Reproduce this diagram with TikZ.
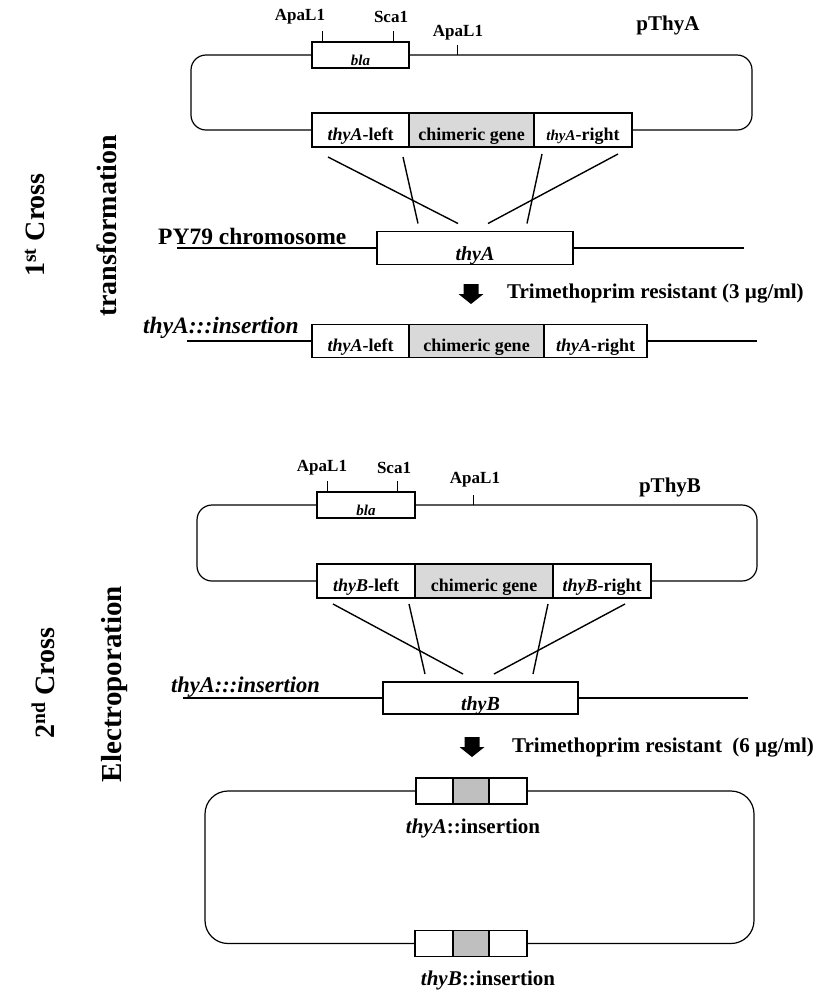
\documentclass[tikz,border=0pt]{standalone}
\usepackage{fontspec}
\setmainfont{Liberation Serif}
\usetikzlibrary{calc}
\usetikzlibrary{positioning}

\newcommand{\dnarrow}[2]{% block arrow, x and top y
  \fill ({#1-7.5},{#2}) -- ({#1+7.5},{#2}) -- ({#1+7.5},{#2+10}) -- ({#1+12.5},{#2+10})
  -- ({#1},{#2+20}) -- ({#1-12.5},{#2+10}) -- ({#1-7.5},{#2+10}) -- cycle;}

\tikzset{
  txt/.style={font=\fontsize{#1}{#1}\selectfont\bfseries, inner sep=0pt},
  txt/.default=18,
  low/.style={text height=#1, text depth=0pt},
  gene/.style={draw, line width=1.8pt, inner sep=0pt, outer sep=0pt, minimum height=34pt, txt=18, low=20pt},
  chim/.style={gene, fill=gray!30},
  small/.style={draw, line width=1.5pt, inner sep=0pt, outer sep=0pt, minimum height=26pt},
  dna/.style={line width=1.6pt},
  ring/.style={line width=1.2pt, rounded corners=15pt},
  tick/.style={line width=1pt},
  xover/.style={line width=1.4pt},
}

\begin{document}
\begin{tikzpicture}[x=1pt,y=-1pt]
  \useasboundingbox (0,0) rectangle (819,994);

  % side labels
  \node[txt=28, rotate=90] (crossA) at (35,225) {1\textsuperscript{st} Cross};
  \node[txt=28, rotate=90] (methA) at (107,226) {transformation};
  \node[txt=28, rotate=90] (crossB) at (43,683) {2\textsuperscript{nd} Cross};
  \node[txt=29, rotate=90] (methB) at (115,684) {Electroporation};

  %%% first cross
  \def \yp {130}
  \node[small, minimum width=97pt, txt=15, low=20pt] (blaA) at (360.5,55) {\textit{bla}};
  \node[gene, minimum width=97pt] (lftA) at (360.5,\yp) {\textit{thyA}-left};
  \node[chim, minimum width=125pt] (chiA) at (471.5,\yp) {chimeric gene};
  \node[gene, minimum width=98pt] (rgtA) at (583,\yp) {{\fontsize{15}{15}\selectfont\textit{thyA}}-right};
  \draw[ring] (blaA.east) -| ($(rgtA.east)+(120,0)$) -- (rgtA.east);
  \draw[ring] (blaA.west) -| ($(lftA.west)+(-121,0)$) -- (lftA.west);

  \node[txt=17] (apaA1) at (300,17) {ApaL1};
  \node[txt=17] (scaA) at (391,17) {Sca1};
  \node[txt=17] (apaA2) at (458,33) {ApaL1};
  \node[txt=21] (plA) at (668,25) {pThyA};
  \draw[tick] (blaA.north west) ++(10,0) -- ++(0,-11);
  \draw[tick] (blaA.north west) ++(81,0) -- ++(0,-11);
  \draw[tick] (457,55) -- ++(0,-10);

  % chromosome
  \def \y {248}
  \node[gene, minimum width=196pt, minimum height=33pt, txt=20, low=24pt] (chrA) at (475,\y) {\textit{thyA}};
  \coordinate (chrAl) at (177,\y);
  \coordinate (chrAr) at (744,\y);
  \draw[dna] (chrAl) -- (chrA.west);
  \draw[dna] (chrA.east) -- (chrAr);
  \node[txt=23.5, anchor=west] (pyA) at (158,236) {PY79 chromosome};

  \draw[xover] ($(lftA.south west)+(16,10)$) -- ($(chrA.north west)+(81,-8)$);
  \draw[xover] ($(lftA.south east)+(-6,10)$) -- ($(chrA.north west)+(41,-8)$);
  \draw[xover] ($(rgtA.south west)+(8,7)$) -- ($(chrA.north east)+(-46,-8)$);
  \draw[xover] ($(rgtA.south east)+(-14,7)$) -- ($(chrA.north west)+(111,-8)$);

  \dnarrow{471}{284}
  \node[txt=21, anchor=west] (trA) at (507,294) {Trimethoprim resistant (3 µg/ml)};

  % insertion
  \def \y {341}
  \node[gene, minimum width=97pt, minimum height=33pt] (insAl) at (360.5,\y) {\textit{thyA}-left};
  \node[chim, minimum width=135pt, minimum height=33pt] (insAc) at (476.5,\y) {chimeric gene};
  \node[gene, minimum width=103pt, minimum height=33pt] (insAr) at (595.5,\y) {\textit{thyA}-right};
  \coordinate (insAa) at (187,\y);
  \coordinate (insAb) at (757,\y);
  \draw[dna] (insAa) -- (insAl.west);
  \draw[dna] (insAr.east) -- (insAb);
  \node[txt=23.5, anchor=west] (insAt) at (143,328) {\textit{thyA:::insertion}};

  %%% second cross
  \def \yp {581}
  \node[small, minimum width=98pt, txt=15, low=20pt] (blaB) at (366,505) {\textit{bla}};
  \node[gene, minimum width=98pt] (lftB) at (366,\yp) {\textit{thyB}-left};
  \node[chim, minimum width=138pt] (chiB) at (484,\yp) {chimeric gene};
  \node[gene, minimum width=98pt] (rgtB) at (602,\yp) {\textit{thyB}-right};
  \draw[ring] (blaB.east) -| ($(rgtB.east)+(106,0)$) -- (rgtB.east);
  \draw[ring] (blaB.west) -| ($(lftB.west)+(-120,0)$) -- (lftB.west);

  \node[txt=17] (apaB1) at (322,468) {ApaL1};
  \node[txt=17] (scaB) at (394,468) {Sca1};
  \node[txt=17] (apaB2) at (475,480) {ApaL1};
  \node[txt=21] (plB) at (670,487) {pThyB};
  \draw[tick] (blaB.north west) ++(10,0) -- ++(0,-11);
  \draw[tick] (blaB.north west) ++(80,0) -- ++(0,-11);
  \draw[tick] (473,505) -- ++(0,-10);

  % chromosome
  \def \y {698}
  \node[gene, minimum width=195pt, minimum height=32pt, txt=20, low=24pt] (chrB) at (480.5,\y) {\textit{thyB}};
  \coordinate (chrBl) at (183,\y);
  \coordinate (chrBr) at (748,\y);
  \draw[dna] (chrBl) -- (chrB.west);
  \draw[dna] (chrB.east) -- (chrBr);
  \node[txt=22.5, anchor=west] (insBt) at (171,687) {\textit{thyA:::insertion}};

  \draw[xover] ($(lftB.south west)+(16,6)$) -- ($(chrB.north west)+(80,-8)$);
  \draw[xover] ($(lftB.south east)+(-6,6)$) -- ($(chrB.north west)+(42,-8)$);
  \draw[xover] ($(rgtB.south west)+(-5,6)$) -- ($(chrB.north west)+(150,-8)$);
  \draw[xover] ($(rgtB.south east)+(-26,6)$) -- ($(chrB.north west)+(111,-8)$);

  \dnarrow{472}{737}
  \node[txt=21, anchor=west] (trB) at (512,748) {Trimethoprim resistant\ \ (6 µg/ml)};

  % final chromosome
  \def \y {791}
  \node[small, minimum width=37pt] (tA1) at (434.5,\y) {};
  \node[small, minimum width=36pt, fill=gray!50] (tA2) at (471,\y) {};
  \node[small, minimum width=38pt] (tA3) at (508,\y) {};
  \def \y {943.5}
  \node[small, minimum width=38pt] (tB1) at (434,\y) {};
  \node[small, minimum width=36pt, fill=gray!50] (tB2) at (471,\y) {};
  \node[small, minimum width=38pt] (tB3) at (508,\y) {};
  \draw[ring, rounded corners=23pt] (tA3.east) -| ($(tB3.east)+(227,0)$) -- (tB3.east);
  \draw[ring, rounded corners=23pt] (tA1.west) -| ($(tB1.west)+(-210,0)$) -- (tB1.west);

  \node[txt=21] (labA) at (473,828) {\textit{thyA}::insertion};
  \node[txt=21] (labB) at (488,980) {\textit{thyB}::insertion};

\end{tikzpicture}
\end{document}
